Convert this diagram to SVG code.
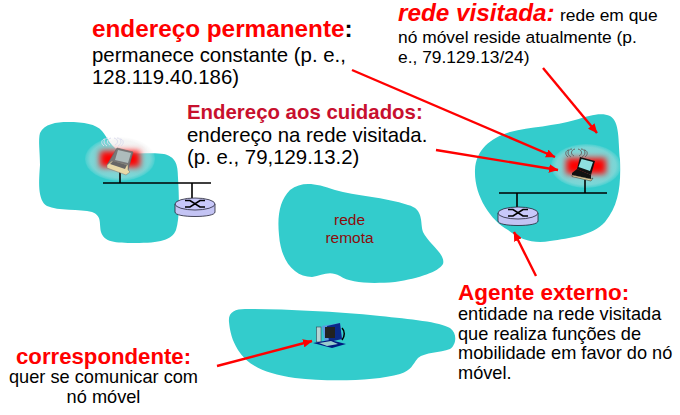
<svg xmlns="http://www.w3.org/2000/svg" width="680" height="415" viewBox="0 0 680 415">
<style>
text{font-family:"Liberation Sans",Arial,sans-serif;fill:#000}
.h{font-weight:700;fill:#f00;font-size:24.3px}
.b{font-size:20.4px}
.s{font-size:18.2px}
.v{font-size:17.4px}
.r{font-size:15.5px;fill:#8b0d0d}
.blob{fill:#33cccc}
.line{stroke:#000;stroke-width:1.6;fill:none}
.arrow{stroke:#f00;stroke-width:2.4;fill:none;marker-end:url(#ah)}
</style>
<defs>
<marker id="ah" viewBox="0 0 10 10" refX="9.5" refY="5" markerWidth="9.5" markerHeight="8.5" orient="auto" markerUnits="userSpaceOnUse" preserveAspectRatio="none"><path d="M0 0L10 5L0 10Z" fill="#f00"/></marker>
<radialGradient id="halo"><stop offset="0" stop-color="#e4e4e4" stop-opacity=".55"/><stop offset=".85" stop-color="#e4e4e4" stop-opacity=".4"/><stop offset="1" stop-color="#eee" stop-opacity=".1"/></radialGradient>
<filter id="soft" x="-40%" y="-80%" width="180%" height="260%"><feGaussianBlur stdDeviation="3"/></filter>
<g id="router">
<path d="M-20 -4V4C-20 7-11 8.500 0 8.500S20 7 20 4V-4Z" fill="#c4c4f4" stroke="#223" stroke-width=".8"/>
<ellipse cx="0" cy="-4" rx="20" ry="6" fill="#c8c8fa" stroke="#223" stroke-width=".8"/>
<path d="M-10 -7.500H-5L5 -1H10M-10 -1H-5L5 -7.500H10" stroke="#000" stroke-width="1.7" fill="none"/>
</g>
<g id="halo-g">
<ellipse cx="0" cy="0" rx="35" ry="22" fill="url(#halo)"/>
<rect x="-20" y="-8" width="40" height="16" fill="#f00" filter="url(#soft)"/>
</g>
<path id="waves" fill="none" stroke-width="1" d="M-3 0C-7 -2-6 -6-2 -7M-6 1C-11 -2-9 -7-5 -7M-9 1C-13 -2-11 -6-8 -6M2 0C6 -2 5 -6 1 -7M5 1C10 -2 8 -7 4 -7M8 1C12 -2 10 -6 7 -6"/>
</defs>

<g id="rede-esquerda">
<path class="blob" d="M40 133C44 124 56 122 68 122C84 122 96 124 102 131C108 138 111 148 122 152C134 155 152 152 164 154C175 157 178 163 178 178C179 195 180 218 176 230C172 240 160 243 135 243C115 243 104 242 101 232C99 222 102 216 92 212C80 209 58 211 47 206C37 200 39 180 40 165C40 152 38 140 40 133Z"/>
</g>
<g id="rede-visitada">
<path class="blob" d="M475 170C476 150 490 138 510 132C530 127 555 126 575 120C590 115 602 112 610 116C620 122 618 140 620 160C621 185 619 205 605 222C592 236 570 238 550 241C535 244 520 240 508 230C490 220 474 195 475 170Z"/>
</g>
<g id="rede-remota">
<path class="blob" d="M279 235C277 215 280 200 290 190C302 181 315 183 335 190C355 196 385 197 408 205C424 209 420 222 423 232C428 243 446 254 443 264C438 272 420 278 395 282C370 284 350 283 340 276C330 270 322 275 312 277C295 277 281 262 279 235Z"/>
<text x="349.500" y="225" text-anchor="middle" class="r">rede</text>
<text x="349.500" y="243" text-anchor="middle" class="r">remota</text>
</g>
<g id="rede-correspondente">
<path class="blob" d="M229 322C228 312 235 309 245 309C280 309 330 311 380 316C410 319 440 322 450 328C458 334 456 345 450 349C440 353 425 352 418 358C412 365 412 370 400 374C375 381 330 382 295 378C265 374 247 365 238 350C232 340 230 332 229 322Z"/>
</g>

<g id="no-movel-esquerdo">
<use href="#halo-g" transform="translate(120 159)"/>
<use href="#waves" transform="translate(113 145)" stroke="#dde"/>
<path class="line" d="M120 172V183"/>
<path d="M117 148L133 152L128 170L107 165Z" fill="#777" stroke="#666" stroke-width=".6"/>
<path d="M118 150L131 153L128 163L115 160Z" fill="#aebcbc"/>
<path d="M107 165L112 161L128 165L128 170L130 172L126 175L107 168Z" fill="#e8d9a8" stroke="#777" stroke-width=".5"/>
<path d="M110 164L113 161L127 165L125 169Z" fill="#666"/>
</g>
<g id="no-movel-visitado">
<use href="#halo-g" transform="translate(586 166)"/>
<use href="#waves" transform="translate(577 156)" stroke="#666"/>
<path class="line" d="M585 180V193"/>
<path d="M580 157L595 161L591 175L577 169Z" fill="#111"/>
<path d="M581.500 159L593 162L590 171L578.500 167Z" fill="#8fe0e0"/>
<path d="M572 173L577 169L591 175L591 179L572 175Z" fill="#111"/>
<path d="M572 175L591 179L593 178L591 181L572 176.500Z" fill="#f0d9a0" stroke="#222" stroke-width=".5"/>
</g>
<g id="correspondente-pc">
<rect x="316.500" y="327" width="4.500" height="15" fill="#b5d5d5" stroke="#345" stroke-width=".6"/>
<path d="M322 326L340 323L342 339L325 343Z" fill="#5c9ae0"/>
<path d="M327 326L340 323L342 339L329 342Z" fill="#0a2a8a"/>
<rect x="325" y="327" width="10" height="11" fill="#222"/>
<path d="M342 328C345 331 345 336 342 340" stroke="#000" stroke-width="1.500" fill="none"/>
<path d="M313 343L330 340L346 344L332 348Z" fill="#001a80"/>
<path d="M319 343L331 341L338 344L327 346Z" fill="#9cc"/>
</g>

<g id="lan-esquerda">
<path class="line" d="M103 183H211M192 183V198"/>
<use href="#router" transform="translate(195 208)"/>
</g>
<g id="lan-visitada">
<path class="line" d="M499 193H607M517 193V207"/>
<use href="#router" transform="translate(518 217)"/>
</g>

<g id="conectores">
<path class="arrow" d="M352 70L555 157"/>
<path class="arrow" d="M436 150L558 170"/>
<path class="arrow" d="M543 68L597 133"/>
<path class="arrow" d="M536 276L514 232"/>
<path class="arrow" d="M217 366L312 341"/>
</g>

<g id="textos">
<text x="92" y="37"><tspan class="h">endereço permanente</tspan><tspan style="font-weight:700;font-size:24.300px">:</tspan></text>
<text x="92" y="62" class="b">permanece constante (p. e.,</text>
<text x="92" y="84" class="b">128.119.40.186)</text>
<text x="398" y="21" class="h" style="font-style:italic">rede visitada:</text>
<text x="560" y="21" class="v">rede em que</text>
<text x="398" y="43" class="v">nó móvel reside atualmente (p.</text>
<text x="398" y="63" class="v">e., 79.129.13/24)</text>
<text x="187" y="119" style="font-weight:700;font-size:20.400px;fill:#c8102e">Endereço aos cuidados:</text>
<text x="187" y="142" class="b">endereço na rede visitada.</text>
<text x="187" y="164" class="b">(p. e., 79,129.13.2)</text>
<text x="458" y="300" class="h" style="font-size:22.500px">Agente externo:</text>
<text x="458" y="320" class="s">entidade na rede visitada</text>
<text x="458" y="340" class="s">que realiza funções de</text>
<text x="458" y="359" class="s">mobilidade em favor do nó</text>
<text x="458" y="379" class="s">móvel.</text>
<text x="16" y="364" class="h" style="font-size:22.200px">correspondente:</text>
<text x="103.500" y="383" text-anchor="middle" class="s">quer se comunicar com</text>
<text x="103.500" y="403" text-anchor="middle" class="s">nó móvel</text>
</g>
</svg>
